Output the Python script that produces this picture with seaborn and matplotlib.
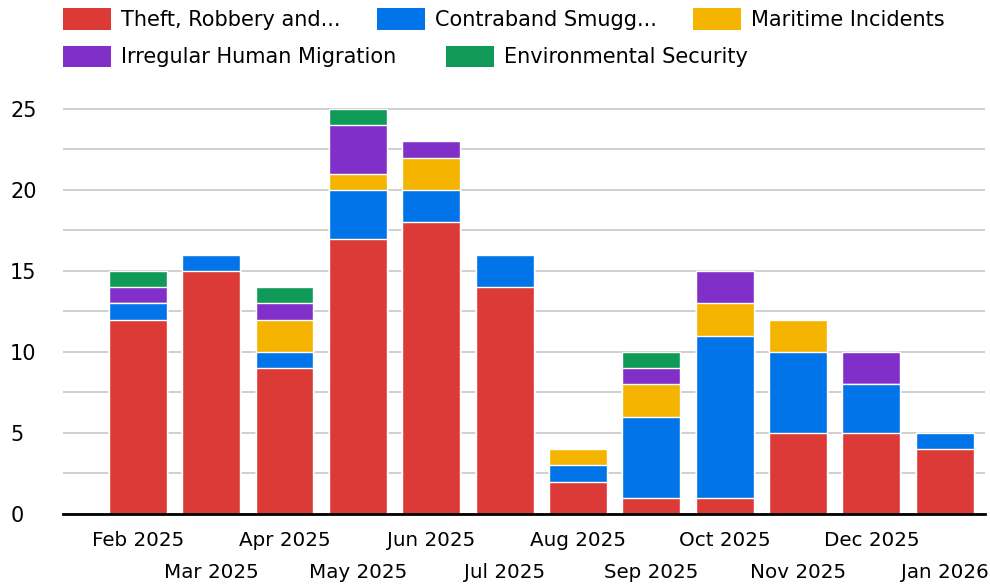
import matplotlib.pyplot as plt
import numpy as np
import pandas as pd
import seaborn as sns
from matplotlib.patches import Patch

sns.set_theme(style="white")
plt.rcParams["font.family"] = ["DejaVu Sans"]
plt.rcParams["text.color"] = "black"
plt.rcParams["xtick.color"] = "black"
plt.rcParams["ytick.color"] = "black"

# Monthly incident counts by category
months = ["Feb 2025", "Mar 2025", "Apr 2025", "May 2025", "Jun 2025", "Jul 2025",
          "Aug 2025", "Sep 2025", "Oct 2025", "Nov 2025", "Dec 2025", "Jan 2026"]
theft = [12, 15, 9, 17, 18, 14, 2, 1, 1, 5, 5, 4]
contraband = [1, 1, 1, 3, 2, 2, 1, 5, 10, 5, 3, 1]
maritime = [0, 0, 2, 1, 2, 0, 1, 2, 2, 2, 0, 0]
migration = [1, 0, 1, 3, 1, 0, 0, 1, 2, 0, 2, 0]
environment = [1, 0, 1, 1, 0, 0, 0, 1, 0, 0, 0, 0]

series_names = ["Theft, Robbery and...", "Contraband Smugg...", "Maritime Incidents",
                "Irregular Human Migration", "Environmental Security"]
colors = ["#db3a37", "#0074e8", "#f4b400", "#8030c9", "#0f9b57"]

df = pd.DataFrame({
    "month": months,
    series_names[0]: theft,
    series_names[1]: contraband,
    series_names[2]: maritime,
    series_names[3]: migration,
    series_names[4]: environment,
})

fig = plt.figure(figsize=(9.9, 5.86), dpi=100)
ax = fig.add_axes([0.0636, 0.1229, 0.9314, 0.705])

# Stack segments with seaborn barplot using cumulative tops, drawn top-down
cum = df[series_names].cumsum(axis=1)
for name, color in reversed(list(zip(series_names, colors))):
    sns.barplot(x=df["month"], y=cum[name], color=color, width=0.79,
                edgecolor="white", linewidth=1, saturation=1, ax=ax, zorder=3)

ax.set_xlim(-1.02, 11.55)
ax.set_ylim(0, 25.5)
ax.set_yticks(np.arange(0, 26, 5))
ax.set_yticks(np.arange(0, 26, 2.5), minor=True)
ax.grid(axis="y", which="both", color="#cccccc", linewidth=1.3, zorder=0)
ax.set_axisbelow(True)
for s in ["top", "right", "left"]:
    ax.spines[s].set_visible(False)
ax.spines["bottom"].set_color("black")
ax.spines["bottom"].set_linewidth(2)
ax.spines["bottom"].set_zorder(5)
ax.set_xlabel("")
ax.set_ylabel("")

# x labels staggered on two rows: even months as major ticks, odd as minor
pos = np.arange(len(months))
ax.set_xticks(pos[::2])
ax.set_xticklabels(months[::2], fontsize=14.3)
ax.set_xticks(pos[1::2], minor=True)
ax.set_xticklabels(months[1::2], minor=True, fontsize=14.3)
ax.tick_params(axis="x", which="major", length=0, pad=12)
ax.tick_params(axis="x", which="minor", length=0, pad=35)
ax.tick_params(axis="y", which="both", length=0, pad=38, labelsize=15)
for t in ax.get_yticklabels():
    t.set_horizontalalignment("left")

# Legend in two rows
handles = [Patch(facecolor=c, edgecolor="none") for c in colors]
leg_kw = dict(frameon=False, handlelength=2.3, handleheight=1.2, handletextpad=0.48,
              fontsize=15, borderaxespad=0, borderpad=0, labelcolor="black")
fig.legend(handles[:3], series_names[:3], ncol=3, loc="upper left",
           bbox_to_anchor=(0.0636, 0.986), columnspacing=1.75, **leg_kw)
fig.legend(handles[3:], series_names[3:], ncol=2, loc="upper left",
           bbox_to_anchor=(0.0636, 0.922), columnspacing=2.4, **leg_kw)

fig.savefig("out.png", dpi=100)
